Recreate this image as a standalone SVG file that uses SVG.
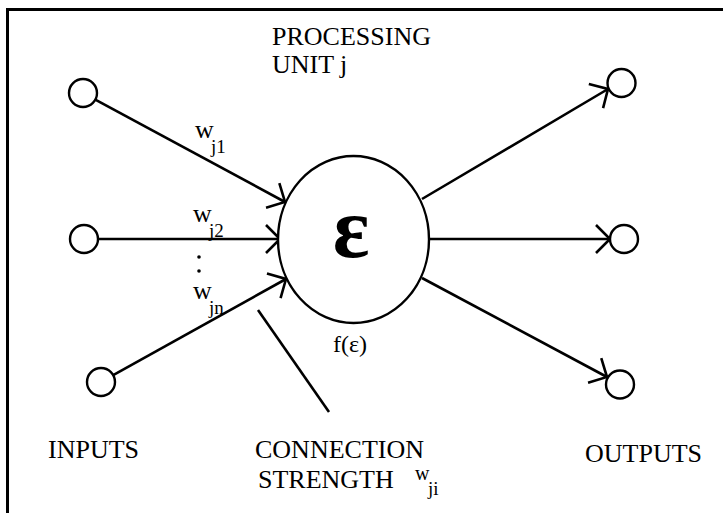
<svg xmlns="http://www.w3.org/2000/svg" width="723" height="513" viewBox="0 0 723 513">
<style>
  .node { fill: #fff; stroke: #000; stroke-width: 2.4; }
  .edge { fill: none; stroke: #000; stroke-width: 2.6; marker-end: url(#arr); }
  .t { font-family: "Liberation Serif", "Times New Roman", serif; fill: #000; }
  .lbl { font-size: 26px; }
  .w { font-size: 26px; }
  .sub { font-size: 19px; }
</style>
<defs>
  <marker id="arr" markerUnits="userSpaceOnUse" viewBox="-16 -16 18 32" refX="0" refY="0" markerWidth="18" markerHeight="32" orient="auto" overflow="visible">
    <path d="M-14,-14 L0,0 L-14,14" fill="none" stroke="#000" stroke-width="2.6"/>
  </marker>
</defs>
<rect width="723" height="513" fill="#fff"/>
<path d="M7.5,513 V9.5 H723" fill="none" stroke="#000" stroke-width="3"/>

<g id="connectors">
  <line class="edge" x1="95.3" y1="99.6" x2="285" y2="202"/>
  <line class="edge" x1="98" y1="239" x2="280" y2="239"/>
  <line class="edge" x1="113.2" y1="375.2" x2="286" y2="279"/>
  <line class="edge" x1="422" y1="199" x2="608" y2="89"/>
  <line class="edge" x1="429" y1="239" x2="610" y2="239"/>
  <line class="edge" x1="422" y1="278" x2="607" y2="377"/>
  <line x1="258" y1="310" x2="329" y2="412" stroke="#000" stroke-width="2.6"/>
</g>

<g id="in1"><circle class="node" cx="83" cy="93" r="14"/></g>
<g id="in2"><circle class="node" cx="84" cy="239" r="14"/></g>
<g id="in3"><circle class="node" cx="101" cy="382" r="14"/></g>
<g id="out1"><circle class="node" cx="621.5" cy="83" r="14"/></g>
<g id="out2"><circle class="node" cx="624" cy="239" r="14"/></g>
<g id="out3"><circle class="node" cx="620" cy="384.5" r="14"/></g>
<g id="unit">
  <ellipse class="node" cx="353.5" cy="239.5" rx="75.5" ry="83.5" stroke-width="2.6"/>
  <text class="t" x="351" y="257" font-size="86" font-weight="bold" text-anchor="middle">ε</text>
</g>

<g id="labels">
  <text class="t lbl" x="272" y="45">PROCESSING</text>
  <text class="t lbl" x="272" y="73">UNIT j</text>
  <text class="t w" x="195" y="138">w</text><text class="t sub" x="211" y="153">j1</text>
  <text class="t w" x="193" y="222">w</text><text class="t sub" x="209" y="237">j2</text>
  <circle cx="199" cy="257" r="1.8" fill="#000"/>
  <circle cx="199" cy="271" r="1.8" fill="#000"/>
  <text class="t w" x="193" y="299">w</text><text class="t sub" x="209" y="314">jn</text>
  <text class="t" x="333" y="352" font-size="24">f(ε)</text>
  <text class="t lbl" x="48" y="458">INPUTS</text>
  <text class="t lbl" x="255" y="458">CONNECTION</text>
  <text class="t lbl" x="258" y="488">STRENGTH</text>
  <text class="t" x="415" y="480" font-size="20">w</text><text class="t sub" x="428" y="495">ji</text>
  <text class="t lbl" x="585" y="462">OUTPUTS</text>
</g>
</svg>
